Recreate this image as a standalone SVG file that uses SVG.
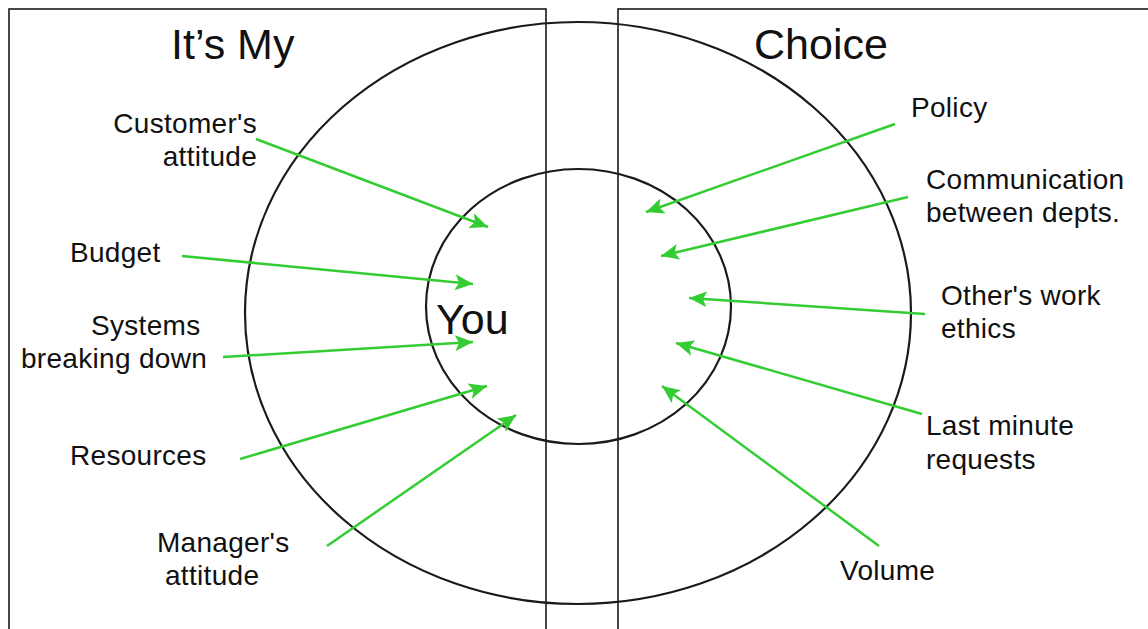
<svg xmlns="http://www.w3.org/2000/svg" width="1148" height="629" viewBox="0 0 1148 629">
<style>
.frame{fill:none;stroke:#1a1a1a;stroke-width:1.6}
.ring{fill:none;stroke:#1a1a1a;stroke-width:2.2}
.arrow{fill:none;stroke:#33cc33;stroke-width:2.5;marker-end:url(#ah)}
.lbl{font-family:"Liberation Sans",Arial,sans-serif;font-size:28px;letter-spacing:0.3px;fill:#111}
.title{font-family:"Liberation Sans",Arial,sans-serif;font-size:43px;fill:#111}
</style>
<defs>
<marker id="ah" markerUnits="userSpaceOnUse" markerWidth="20" markerHeight="16" refX="18" refY="8" orient="auto">
<path d="M0,0 L18,8 L0,16 L4,8 Z" fill="#33cc33"/>
</marker>
</defs>
<rect width="1148" height="629" fill="#fff"/>
<g id="frames">
<rect class="frame" x="9" y="9" width="537" height="640"/>
<rect class="frame" x="618" y="9" width="560" height="640"/>
</g>
<g id="outer-ring"><ellipse class="ring" cx="578" cy="313" rx="333" ry="291"/></g>
<g id="inner-ring"><ellipse class="ring" cx="578.5" cy="306.5" rx="152.5" ry="137.5"/></g>
<g id="titles">
<text class="title" x="171" y="59">It’s My</text>
<text class="title" x="754" y="59">Choice</text>
</g>
<g id="you"><text class="title" x="436" y="334">You</text></g>
<g id="connectors">
<line class="arrow" x1="256" y1="139" x2="488" y2="227"/>
<line class="arrow" x1="182" y1="256" x2="473" y2="284"/>
<line class="arrow" x1="223" y1="357" x2="473" y2="342"/>
<line class="arrow" x1="240" y1="459" x2="487" y2="386"/>
<line class="arrow" x1="327" y1="546" x2="516" y2="415"/>
<line class="arrow" x1="895" y1="124" x2="646" y2="212"/>
<line class="arrow" x1="908" y1="197" x2="661" y2="256"/>
<line class="arrow" x1="925" y1="314" x2="689" y2="298"/>
<line class="arrow" x1="922" y1="414" x2="676" y2="343"/>
<line class="arrow" x1="879" y1="546" x2="662" y2="386"/>
</g>
<g id="n-customer"><text class="lbl" text-anchor="end"><tspan x="257" y="133">Customer's</tspan><tspan x="257" y="166">attitude</tspan></text></g>
<g id="n-budget"><text class="lbl" x="70" y="262">Budget</text></g>
<g id="n-systems"><text class="lbl"><tspan x="91" y="335">Systems</tspan><tspan x="21" y="368">breaking down</tspan></text></g>
<g id="n-resources"><text class="lbl" x="70" y="465">Resources</text></g>
<g id="n-manager"><text class="lbl"><tspan x="157" y="552">Manager's</tspan><tspan x="165" y="585">attitude</tspan></text></g>
<g id="n-policy"><text class="lbl" x="911" y="117">Policy</text></g>
<g id="n-communication"><text class="lbl"><tspan x="926" y="189">Communication</tspan><tspan x="926" y="222">between depts.</tspan></text></g>
<g id="n-others"><text class="lbl"><tspan x="941" y="305">Other's work</tspan><tspan x="941" y="338">ethics</tspan></text></g>
<g id="n-lastminute"><text class="lbl"><tspan x="926" y="435">Last minute</tspan><tspan x="926" y="469">requests</tspan></text></g>
<g id="n-volume"><text class="lbl" x="840" y="580">Volume</text></g>
</svg>
